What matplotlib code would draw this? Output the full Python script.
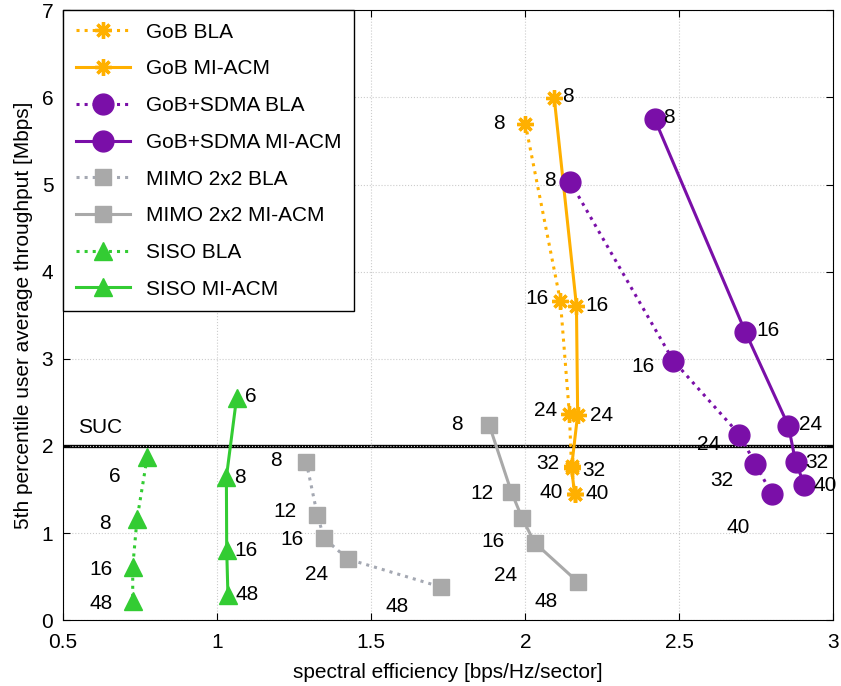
import matplotlib
matplotlib.use("Agg")
import matplotlib.pyplot as plt

plt.rcParams['font.family'] = ['Liberation Sans', 'DejaVu Sans']

# spectral efficiency / throughput
gob_bla_x = [2.00, 2.114, 2.143, 2.150, 2.160]
gob_bla_y = [5.70, 3.66, 2.37, 1.77, 1.45]
gob_mi_x = [2.094, 2.166, 2.170, 2.150, 2.160]
gob_mi_y = [5.99, 3.61, 2.36, 1.75, 1.45]
gob_labels = ["8", "16", "24", "32", "40"]

sdma_bla_x = [2.146, 2.48, 2.695, 2.747, 2.80]
sdma_bla_y = [5.03, 2.98, 2.13, 1.79, 1.45]
sdma_mi_x = [2.42, 2.714, 2.854, 2.877, 2.906]
sdma_mi_y = [5.75, 3.31, 2.23, 1.82, 1.55]
sdma_labels = ["8", "16", "24", "32", "40"]

mimo_bla_x = [1.289, 1.325, 1.347, 1.425, 1.727]
mimo_bla_y = [1.82, 1.21, 0.94, 0.70, 0.38]
mimo_mi_x = [1.883, 1.955, 1.99, 2.03, 2.17]
mimo_mi_y = [2.24, 1.47, 1.17, 0.89, 0.44]
mimo_labels = ["8", "12", "16", "24", "48"]

siso_bla_x = [0.773, 0.740, 0.726, 0.726]
siso_bla_y = [1.87, 1.16, 0.61, 0.22]
siso_mi_x = [1.063, 1.030, 1.031, 1.035]
siso_mi_y = [2.55, 1.64, 0.81, 0.29]
siso_labels = ["6", "8", "16", "48"]

suc_level = 2.0

orange = '#FFB000'
purple = '#7A0FA8'
gray = '#A9A9A9'
gray_dot = '#A4A8B2'
green = '#33CC33'

fig = plt.figure(figsize=(8.41, 6.86), dpi=100)
ax = fig.add_axes([0.075, 0.096, 0.916, 0.889])

ax.plot(gob_bla_x, gob_bla_y, ':', color=orange, lw=2.2, marker=(8, 2, 0), ms=12, mew=2.4, label='GoB BLA')
ax.plot(gob_mi_x, gob_mi_y, '-', color=orange, lw=2.2, marker=(8, 2, 0), ms=12, mew=2.4, label='GoB MI-ACM')
ax.plot(sdma_bla_x, sdma_bla_y, ':', color=purple, lw=2.2, marker='o', ms=15, label='GoB+SDMA BLA')
ax.plot(sdma_mi_x, sdma_mi_y, '-', color=purple, lw=2.2, marker='o', ms=15, label='GoB+SDMA MI-ACM')
ax.plot(mimo_bla_x, mimo_bla_y, ':', color=gray_dot, lw=2.2, marker='s', ms=11,
        mfc=gray, mec=gray, label='MIMO 2x2 BLA')
ax.plot(mimo_mi_x, mimo_mi_y, '-', color=gray, lw=2.2, marker='s', ms=11, label='MIMO 2x2 MI-ACM')
ax.plot(siso_bla_x, siso_bla_y, ':', color=green, lw=2.2, marker='^', ms=13, label='SISO BLA')
ax.plot(siso_mi_x, siso_mi_y, '-', color=green, lw=2.2, marker='^', ms=13, label='SISO MI-ACM')

ax.axhline(suc_level, color='black', lw=2.4, zorder=1)
ax.text(0.55, suc_level + 0.1, 'SUC', fontsize=15, va='bottom')

fs = 15
def tag(xs, ys, labels, offsets):
    for x, y, s, (dx, dy) in zip(xs, ys, labels, offsets):
        ax.annotate(s, (x, y), xytext=(dx, dy), textcoords='offset points',
                    ha='center', va='center', fontsize=fs)

tag(gob_bla_x, gob_bla_y, gob_labels, [(-19, 0), (-17, 2), (-17, 2), (-17, 2), (-17, 1)])
tag(gob_mi_x, gob_mi_y, gob_labels, [(10, 1), (15, 0), (17, -1), (16, -2), (16, 0)])
tag(sdma_bla_x, sdma_bla_y, sdma_labels, [(-15, 1), (-22, -4), (-22, -7), (-24, -12), (-24, -24)])
tag(sdma_mi_x, sdma_mi_y, sdma_labels, [(10, 1), (16, 1), (16, 1), (15, -1), (15, 0)])
tag(mimo_bla_x, mimo_bla_y, mimo_labels, [(-22, 1), (-23, 2), (-23, -1), (-23, -11), (-32, -14)])
tag(mimo_mi_x, mimo_mi_y, mimo_labels, [(-23, 0), (-21, -1), (-21, -17), (-21, -24), (-23, -14)])
tag(siso_bla_x, siso_bla_y, siso_labels, [(-23, -14), (-23, -3), (-23, -2), (-23, -2)])
tag(siso_mi_x, siso_mi_y, siso_labels, [(10, 1), (10, 0), (14, -1), (14, 0)])

ax.set_xlim(0.5, 3)
ax.set_ylim(0, 7)
ax.set_xticks([0.5, 1, 1.5, 2, 2.5, 3])
ax.set_xticklabels(['0.5', '1', '1.5', '2', '2.5', '3'])
ax.set_yticks(range(8))
ax.tick_params(labelsize=15, direction='in', length=5, top=True, right=True)
ax.tick_params(axis='x', pad=9)
ax.tick_params(axis='y', pad=7)
ax.grid(True, ls=':', color='#cccccc', lw=0.8)
ax.set_xlabel('spectral efficiency [bps/Hz/sector]', fontsize=15, labelpad=8)
ax.set_ylabel('5th percentile user average throughput [Mbps]', fontsize=15, labelpad=6)

leg = ax.legend(loc='upper left', fontsize=15, frameon=True, fancybox=False,
                edgecolor='black', borderaxespad=0.0, handlelength=2.6,
                labelspacing=0.85, borderpad=0.6, framealpha=1)
leg.get_frame().set_linewidth(1.0)

fig.savefig('out.png', dpi=100)
